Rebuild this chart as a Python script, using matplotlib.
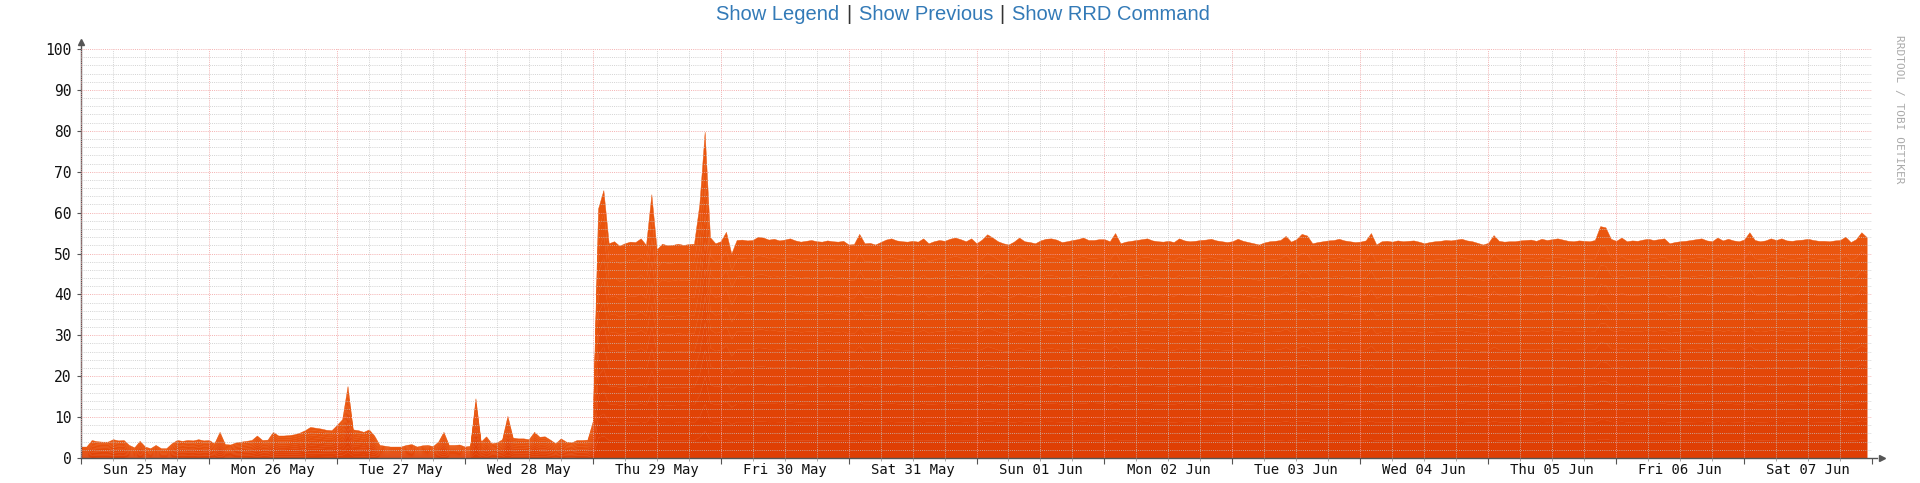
import numpy as np
import matplotlib.pyplot as plt
from matplotlib.ticker import MultipleLocator
from matplotlib.colors import to_rgb

# day labels (centred on noon) and y ticks
day_labels = ["Sun 25 May", "Mon 26 May", "Tue 27 May", "Wed 28 May", "Thu 29 May",
              "Fri 30 May", "Sat 31 May", "Sun 01 Jun", "Mon 02 Jun", "Tue 03 Jun",
              "Wed 04 Jun", "Thu 05 Jun", "Fri 06 Jun", "Sat 07 Jun"]
y_ticks = list(range(0, 101, 10))

# hourly values, one list per day
d_25 = [2.8, 2.8, 4.4, 4.1, 4.0, 4.0, 4.6, 4.3, 4.4, 3.2, 2.6, 4.2,
        2.8, 2.4, 3.2, 2.4, 2.4, 3.6, 4.4, 4.2, 4.4, 4.3, 4.6, 4.3]
d_26 = [4.4, 3.6, 6.4, 3.4, 3.3, 3.8, 4.0, 4.2, 4.4, 5.5, 4.4, 4.5,
        6.4, 5.5, 5.5, 5.6, 5.8, 6.2, 6.8, 7.6, 7.4, 7.2, 6.9, 6.8]
d_27 = [8.1, 9.5, 17.6, 7.0, 6.8, 6.4, 7.0, 5.5, 3.2, 3.0, 2.8, 2.8,
        2.8, 3.2, 3.4, 2.8, 3.1, 3.2, 2.9, 4.0, 6.4, 3.2, 3.2, 3.3]
d_28 = [2.8, 3.0, 14.6, 4.0, 5.3, 3.6, 3.8, 4.6, 10.3, 5.0, 4.8, 4.8,
        4.6, 6.4, 5.2, 5.3, 4.5, 3.6, 4.8, 4.0, 3.8, 4.4, 4.4, 4.5]
d_29 = [9.0, 61.0, 65.5, 52.5, 53.0, 51.9, 52.5, 52.9, 52.8, 53.7, 52.1, 64.5,
        51.0, 52.4, 52.0, 52.1, 52.4, 52.1, 52.3, 52.4, 62.0, 79.8, 54.0, 52.5]
d_30 = [53.0, 55.3, 50.0, 53.3, 53.4, 53.2, 53.3, 54.1, 53.9, 53.4, 53.6, 53.2,
        53.4, 53.7, 53.2, 52.9, 53.1, 53.3, 53.0, 52.9, 53.2, 53.0, 52.9, 53.1]
d_31 = [52.2, 52.3, 54.8, 52.5, 52.6, 52.2, 52.8, 53.4, 53.7, 53.2, 53.0, 52.9,
        53.1, 52.9, 53.7, 52.5, 53.0, 53.3, 53.1, 53.6, 53.9, 53.5, 53.0, 53.7]
d_01 = [52.5, 53.4, 54.7, 53.9, 53.0, 52.5, 52.2, 52.9, 53.9, 53.0, 52.8, 52.5,
        53.2, 53.6, 53.7, 53.4, 52.8, 53.0, 53.3, 53.5, 53.9, 53.3, 53.3, 53.5]
d_02 = [53.5, 53.0, 55.0, 52.5, 52.9, 53.1, 53.3, 53.5, 53.7, 53.2, 53.0, 52.9,
        53.1, 52.8, 53.7, 53.2, 53.0, 53.1, 53.3, 53.4, 53.6, 53.2, 53.0, 52.8]
d_03 = [53.0, 53.6, 53.1, 52.8, 52.5, 52.2, 52.7, 53.0, 53.1, 53.3, 54.3, 52.9,
        53.5, 54.8, 54.4, 52.5, 52.8, 53.0, 53.2, 53.3, 53.6, 53.2, 53.0, 52.8]
d_04 = [52.9, 53.2, 55.0, 52.2, 53.0, 53.1, 52.9, 53.2, 53.0, 53.1, 53.2, 52.9,
        52.5, 52.8, 53.0, 53.1, 53.3, 53.2, 53.4, 53.6, 53.2, 53.0, 52.6, 52.2]
d_05 = [52.6, 54.5, 53.1, 52.9, 53.0, 53.0, 53.2, 53.3, 53.4, 53.1, 53.6, 53.3,
        53.5, 53.7, 53.4, 53.1, 53.0, 53.2, 53.1, 53.0, 53.3, 56.7, 56.4, 53.6]
d_06 = [53.1, 53.9, 53.0, 53.2, 53.1, 53.4, 53.6, 53.3, 53.5, 53.7, 52.5, 52.8,
        53.0, 53.1, 53.3, 53.5, 53.7, 53.2, 53.0, 53.9, 53.2, 53.6, 53.2, 53.0]
d_07 = [53.4, 55.2, 53.3, 53.0, 53.2, 53.7, 53.3, 53.7, 53.2, 53.1, 53.3, 53.4,
        53.6, 53.3, 53.1, 53.1, 53.0, 53.2, 53.3, 54.1, 52.8, 53.5, 55.2, 54.0]

load = np.array(d_25 + d_26 + d_27 + d_28 + d_29 + d_30 + d_31 +
                d_01 + d_02 + d_03 + d_04 + d_05 + d_06 + d_07)
hours = np.arange(len(load))

fig = plt.figure(figsize=(19.2, 4.83), dpi=100)
ax = fig.add_axes([81 / 1920, 25 / 483, 1791 / 1920, 409 / 483])
ax.set_xlim(0, 336)
ax.set_ylim(0, 100)

# area with a vertical gradient (darker at the bottom)
c_bot = np.array(to_rgb('#DF3E04'))
c_top = np.array(to_rgb('#EA570E'))
n = 12
for k in range(n):
    c = c_bot + (c_top - c_bot) * (k + 0.5) / n
    ax.fill_between(hours, load * k / n, load * (k + 1) / n, color=c,
                    lw=0.3, edgecolor=c, zorder=1)

# grid on top of the data, rrdtool style
ax.xaxis.set_major_locator(MultipleLocator(24))
ax.xaxis.set_minor_locator(MultipleLocator(6))
ax.yaxis.set_major_locator(MultipleLocator(10))
ax.yaxis.set_minor_locator(MultipleLocator(2))
ax.set_axisbelow(False)
ax.grid(which='minor', color='#c4c4c4', ls=(0, (1, 1.2)), lw=0.7, alpha=0.75)
ax.grid(which='major', color='#f2a2a2', ls=(0, (1, 1.2)), lw=0.7, alpha=0.85)

for s in ['top', 'right']:
    ax.spines[s].set_visible(False)
for s in ['left', 'bottom']:
    ax.spines[s].set_color('#555555')
    ax.spines[s].set_linewidth(1)
ax.spines['left'].set_bounds(0, 101)
ax.spines['bottom'].set_bounds(0, 337)
ax.plot([0], [101.8], marker='^', color='#555555', ms=5, clip_on=False)
ax.plot([337.8], [0], marker='>', color='#555555', ms=5, clip_on=False)

ax.set_yticks(y_ticks)
ax.set_yticklabels([str(t) for t in y_ticks], fontsize=10.5,
                   family='DejaVu Sans Mono', color='#111111')
ax.tick_params(axis='y', which='major', length=3, color='#555555', pad=4)
ax.tick_params(axis='y', which='minor', length=0)
ax.tick_params(axis='x', which='major', length=4, color='#555555', labelbottom=False)
ax.tick_params(axis='x', which='minor', length=2, color='#999999', labelbottom=False)

for i, lab in enumerate(day_labels):
    ax.text(12 + 24 * i, -0.03, lab, transform=ax.get_xaxis_transform(),
            ha='center', va='center', fontsize=10, family='DejaVu Sans Mono',
            color='#111111')

# header links
hy = 1 - 15 / 483
links = [("Show Legend", 778, '#337ab7'), ("|", 849, '#333333'),
         ("Show Previous", 926, '#337ab7'), ("|", 1002, '#333333'),
         ("Show RRD Command", 1111, '#337ab7')]
for txt, xc, col in links:
    fig.text(xc / 1920, hy, txt, ha='center', va='center', fontsize=14.5,
             family='Liberation Sans', color=col)

fig.text(1899 / 1920, 1 - 109 / 483, "RRDTOOL / TOBI OETIKER", rotation=270,
         ha='center', va='center', fontsize=8, family='DejaVu Sans Mono',
         color='#aaaaaa')

fig.savefig('out.png', dpi=100)
